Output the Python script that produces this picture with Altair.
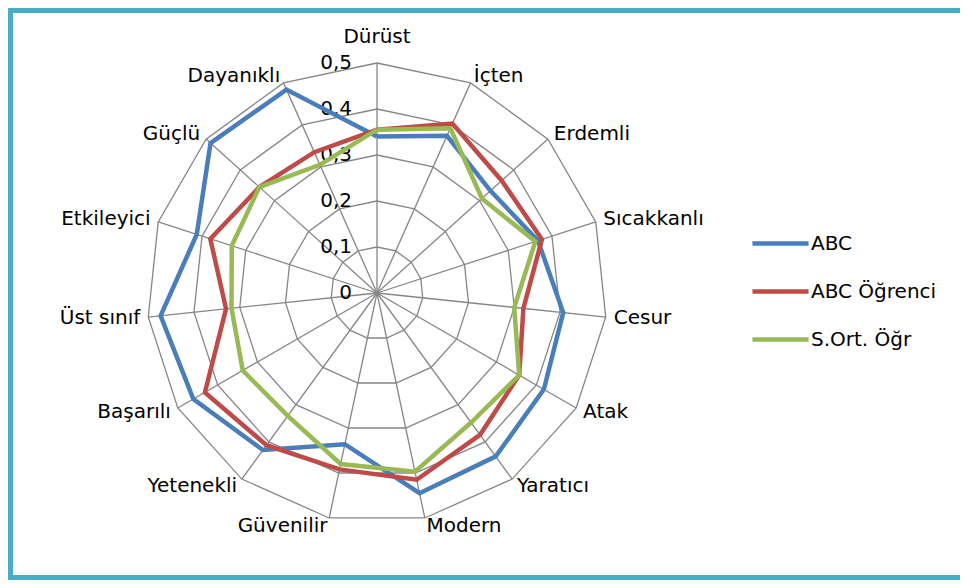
import math
import altair as alt
import pandas as pd

# ---- data ----
categories = ["Dürüst", "İçten", "Erdemli", "Sıcakkanlı", "Cesur", "Atak", "Yaratıcı",
              "Modern", "Güvenilir", "Yetenekli", "Başarılı", "Üst sınıf", "Etkileyici",
              "Güçlü", "Dayanıklı"]
abc = [0.340, 0.374, 0.332, 0.368, 0.407, 0.419, 0.439, 0.445, 0.336, 0.422, 0.461,
       0.473, 0.412, 0.487, 0.484]
abc_ogrenci = [0.355, 0.403, 0.365, 0.377, 0.320, 0.357, 0.381, 0.415, 0.392, 0.409,
               0.432, 0.330, 0.381, 0.344, 0.335]
sort_ogr = [0.355, 0.392, 0.307, 0.362, 0.300, 0.357, 0.348, 0.397, 0.380, 0.330,
            0.337, 0.318, 0.332, 0.344, 0.305]
series_names = ["ABC", "ABC Öğrenci", "S.Ort. Öğr"]
series_colors = ["#4A7EBB", "#BE4B48", "#98B954"]
tick_values = [0.0, 0.1, 0.2, 0.3, 0.4, 0.5]
tick_labels = ["0", "0,1", "0,2", "0,3", "0,4", "0,5"]

N = len(categories)
FONT = "DejaVu Sans"

# ---- tables ----
rows = []
for name, vals in zip(series_names, [abc, abc_ogrenci, sort_ogr]):
    for i in range(N + 1):
        rows.append({"series": name, "idx": i, "value": vals[i % N]})
series_df = pd.DataFrame(rows)

ring_rows = []
for lv in tick_values[1:]:
    for i in range(N + 1):
        ring_rows.append({"level": lv, "idx": i})
ring_df = pd.DataFrame(ring_rows)

spoke_df = pd.DataFrame({"idx": list(range(N)), "level": [tick_values[-1]] * N})
label_df = pd.DataFrame({"idx": list(range(N)), "cat": categories})
tick_df = pd.DataFrame({"level": tick_values, "text": tick_labels})

# ---- geometry via scales ----
W, H = 952, 572
PX = 460.0  # pixels per data unit
cx, cy = 377 - 8, 293 - 8
xdom = [-cx / PX, (W - cx) / PX]
ydom = [-(H - cy) / PX, cy / PX]
XS = alt.Scale(domain=xdom, nice=False, zero=False)
YS = alt.Scale(domain=ydom, nice=False, zero=False)
ANG = f"datum.idx * 2 * PI / {N}"

def xy(base, rexpr):
    return base.transform_calculate(
        ang=ANG
    ).transform_calculate(
        px=f"({rexpr}) * sin(datum.ang)", py=f"({rexpr}) * cos(datum.ang)"
    )

GRID = "#868686"

rings = xy(alt.Chart(ring_df), "datum.level").mark_line(
    color=GRID, strokeWidth=1.3
).encode(
    x=alt.X("px:Q", scale=XS, axis=None),
    y=alt.Y("py:Q", scale=YS, axis=None),
    detail="level:N",
    order="idx:Q",
)

spokes = xy(alt.Chart(spoke_df), "datum.level").transform_calculate(
    zx="0", zy="0"
).mark_rule(color=GRID, strokeWidth=1.3).encode(
    x=alt.X("zx:Q", scale=XS, axis=None),
    y=alt.Y("zy:Q", scale=YS, axis=None),
    x2="px:Q",
    y2="py:Q",
)

ticks = alt.Chart(tick_df).transform_calculate(zx="0").mark_text(
    align="right", baseline="middle", dx=-25, font=FONT, fontSize=20, color="#000000"
).encode(
    x=alt.X("zx:Q", scale=XS, axis=None),
    y=alt.Y("level:Q", scale=YS, axis=None),
    text="text:N",
)

color_scale = alt.Scale(domain=series_names, range=series_colors)
lines = []
for name in series_names:
    lines.append(
        xy(alt.Chart(series_df), "datum.value").transform_filter(
            alt.datum.series == name
        ).mark_line(strokeWidth=4.5, strokeJoin="miter").encode(
            x=alt.X("px:Q", scale=XS, axis=None),
            y=alt.Y("py:Q", scale=YS, axis=None),
            color=alt.Color(
                "series:N", scale=color_scale,
                legend=alt.Legend(
                    title=None, orient="none", legendX=742, legendY=205,
                    labelFont=FONT, labelFontSize=20, labelColor="#000000",
                    symbolType="stroke", symbolStrokeWidth=4.5, symbolSize=3150,
                    rowPadding=7, labelOffset=0, padding=0,
                ),
            ),
            order="idx:Q",
        )
    )

RL = 0.5 + 8 / PX
lab_base = xy(alt.Chart(label_df), str(RL))
lab_enc = dict(
    x=alt.X("px:Q", scale=XS, axis=None),
    y=alt.Y("py:Q", scale=YS, axis=None),
    text="cat:N",
)
lab_top = lab_base.transform_filter("datum.idx == 0").mark_text(
    align="center", baseline="middle", dy=-18, font=FONT, fontSize=20, color="#000000"
).encode(**lab_enc)
lab_right = lab_base.transform_filter("datum.idx >= 1 && datum.idx <= 7").mark_text(
    align="left", baseline="middle", font=FONT, fontSize=20, color="#000000"
).encode(**lab_enc)
lab_left = lab_base.transform_filter("datum.idx >= 8").mark_text(
    align="right", baseline="middle", font=FONT, fontSize=20, color="#000000"
).encode(**lab_enc)

# decorative frame (top, left, bottom edges; the right edge lies outside the page)
FR = "#4BACC6"
one = pd.DataFrame({"k": [0]})
frame_top = alt.Chart(one).mark_rule(color=FR, strokeWidth=5).encode(
    x=alt.value(0), x2=alt.value(W), y=alt.value(2.5)
)
frame_bottom = alt.Chart(one).mark_rule(color=FR, strokeWidth=5).encode(
    x=alt.value(0), x2=alt.value(W), y=alt.value(569.5)
)
frame_left = alt.Chart(one).mark_rule(color=FR, strokeWidth=5).encode(
    x=alt.value(2.5), y=alt.value(0), y2=alt.value(572)
)

chart = alt.layer(
    rings, spokes, ticks, *lines, lab_top, lab_right, lab_left,
    frame_top, frame_bottom, frame_left
).properties(
    width=W, height=H, autosize=alt.AutoSizeParams(type="none"), padding=0
).configure_view(stroke=None).resolve_scale(color="shared")

chart.save("out.html", embed_options={"renderer": "svg", "actions": False})
